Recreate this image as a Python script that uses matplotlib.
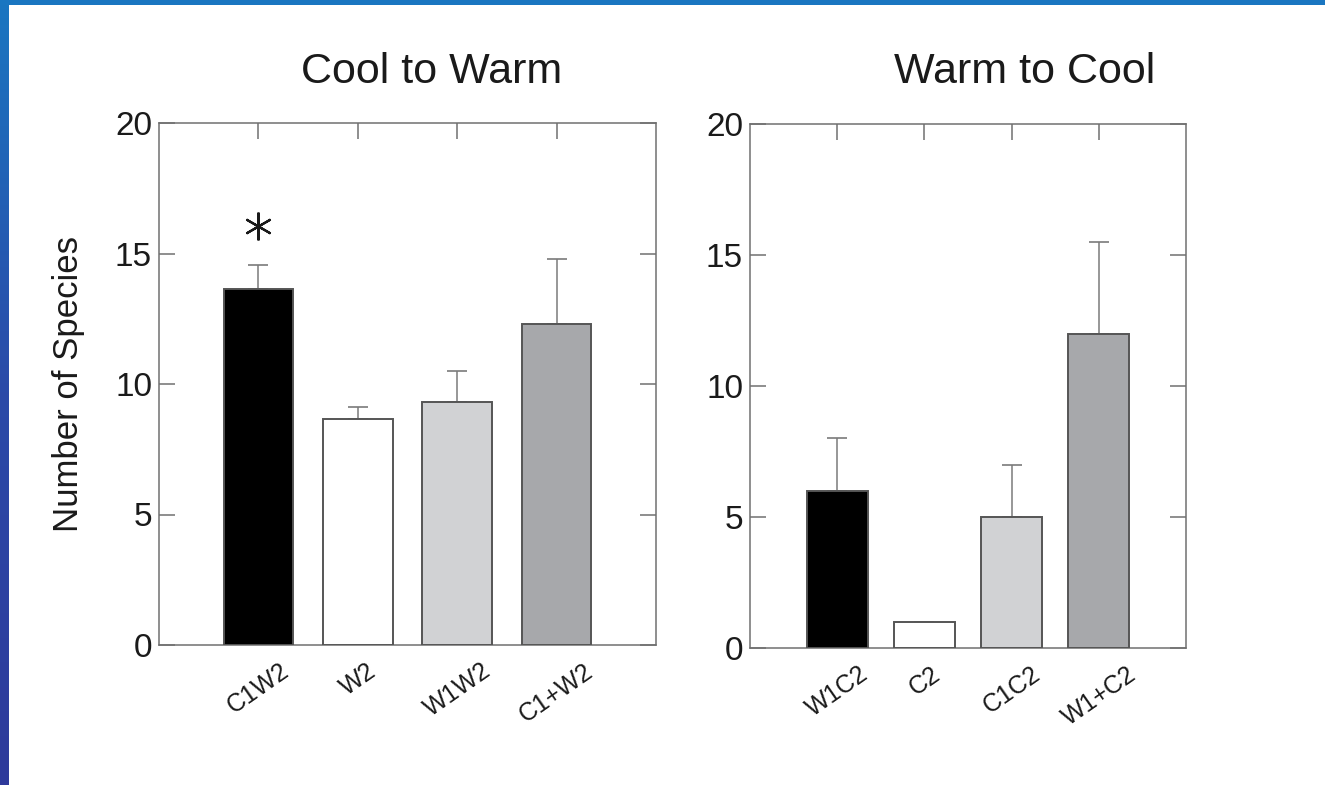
import numpy as np
import matplotlib
matplotlib.use('Agg')
import matplotlib.pyplot as plt

# data
left_labels = ['C1W2', 'W2', 'W1W2', 'C1+W2']
left_means = [13.65, 8.65, 9.3, 12.3]
left_err = [0.9, 0.45, 1.2, 2.5]
right_labels = ['W1C2', 'C2', 'C1C2', 'W1+C2']
right_means = [6.0, 1.0, 5.0, 12.0]
right_err = [2.0, 0.0, 2.0, 3.5]
bar_colors = ['#000000', '#ffffff', '#d1d2d4', '#a7a8ab']
star_pos = [0]      # bar index marked significant
star_y = [16.05]
y_ticks = [0, 5, 10, 15, 20]

plt.rcParams['font.family'] = ['Liberation Sans', 'DejaVu Sans']
edge = '#555555'
spine = '#707070'
txt = '#1a1a1a'

fig = plt.figure(figsize=(13.25, 7.85), dpi=100)
fig.patch.set_facecolor('white')

# blue frame of the slide
gax = fig.add_axes([0, 0, 9/1325, 1])
grad = np.linspace(0, 1, 256).reshape(-1, 1)
cmap = matplotlib.colors.LinearSegmentedColormap.from_list('b', ['#1a76c1', '#2b4aa8', '#2f3a9b'])
gax.imshow(grad, aspect='auto', cmap=cmap, extent=[0, 1, 0, 1], origin='upper')
gax.axis('off')
tax = fig.add_axes([0, 1-5/785, 1, 5/785])
tax.set_facecolor('#1a76c1')
tax.set_xticks([]); tax.set_yticks([])
for s in tax.spines.values():
    s.set_visible(False)

def panel(rect, labels, means, err, title, tx):
    ax = fig.add_axes(rect)
    x = np.arange(len(labels))
    ax.bar(x, means, width=0.7, color=bar_colors, edgecolor=edge, linewidth=1.4, zorder=3)
    ax.errorbar(x, means, yerr=[np.zeros(len(err)), err], fmt='none', ecolor='#7a7a7a',
                elinewidth=1.1, capsize=7, capthick=1.2, zorder=2)
    ax.set_xlim(-1, len(labels))
    ax.set_ylim(0, 20)
    ax.set_yticks(y_ticks)
    ax.set_xticks(x)
    ax.set_xticklabels(labels, rotation=35, ha='center', fontsize=18, color=txt)
    ax.tick_params(axis='both', direction='in', length=11.5, width=1.1, color=spine)
    ax.tick_params(axis='x', bottom=False, top=True, pad=10)
    ax.tick_params(axis='y', left=True, right=True, pad=5, labelsize=24, labelcolor=txt)
    for s in ax.spines.values():
        s.set_color(spine)
        s.set_linewidth(1.1)
    fig.text(tx / 1325, 1 - 83 / 785, title, ha='center', va='baseline', fontsize=31, color=txt)
    return ax

ax1 = panel([159/1325, 1-645/785, 497/1325, 522/785], left_labels, left_means, left_err,
            'Cool to Warm', 432)
ax1.plot(star_pos, star_y, linestyle='none', marker=(6, 2, 0), markersize=20,
         markeredgewidth=1.6, color=txt, zorder=4)
ax1.set_ylabel('Number of Species', fontsize=25, color=txt)
ax1.yaxis.set_label_coords(-0.149, 0.5)

ax2 = panel([750/1325, 1-648/785, 436/1325, 524/785], right_labels, right_means, right_err,
            'Warm to Cool', 1025)

fig.savefig('out.png', dpi=100)
